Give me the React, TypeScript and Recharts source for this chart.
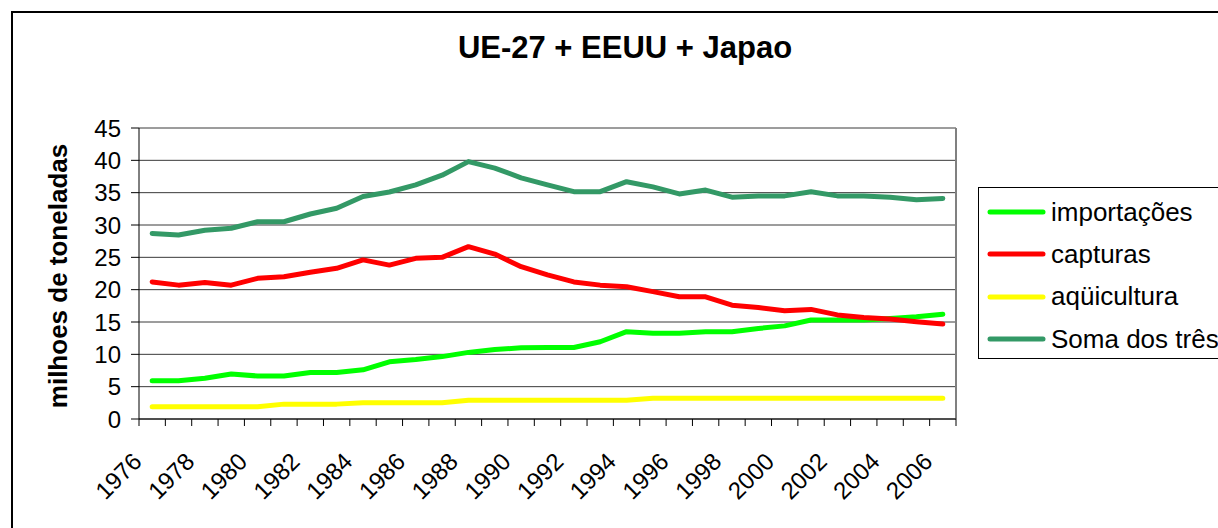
import React from "react";
import {
  LineChart,
  Line,
  XAxis,
  YAxis,
  CartesianGrid,
  ReferenceLine,
} from "recharts";

const years = [
  1976, 1977, 1978, 1979, 1980, 1981, 1982, 1983, 1984, 1985, 1986, 1987, 1988,
  1989, 1990, 1991, 1992, 1993, 1994, 1995, 1996, 1997, 1998, 1999, 2000, 2001,
  2002, 2003, 2004, 2005, 2006,
];
const importacoes = [
  5.9, 5.9, 6.3, 6.95, 6.65, 6.65, 7.2, 7.2, 7.6, 8.85, 9.2, 9.65, 10.3, 10.75,
  11.0, 11.05, 11.05, 11.95, 13.5, 13.25, 13.25, 13.5, 13.5, 14.0, 14.4, 15.3,
  15.3, 15.3, 15.55, 15.8, 16.2,
];
const capturas = [
  21.2, 20.7, 21.1, 20.7, 21.75, 22.0, 22.7, 23.3, 24.6, 23.8, 24.85, 25.0,
  26.65, 25.5, 23.55, 22.3, 21.2, 20.7, 20.45, 19.7, 18.9, 18.9, 17.6, 17.25,
  16.75, 16.95, 16.1, 15.7, 15.45, 15.05, 14.7,
];
const aquicultura = [
  1.9, 1.9, 1.9, 1.9, 1.9, 2.3, 2.3, 2.3, 2.5, 2.5, 2.5, 2.5, 2.9, 2.9, 2.9,
  2.9, 2.9, 2.9, 2.9, 3.2, 3.2, 3.2, 3.2, 3.2, 3.2, 3.2, 3.2, 3.2, 3.2, 3.2,
  3.2,
];
const soma = [
  28.7, 28.45, 29.2, 29.5, 30.5, 30.5, 31.7, 32.6, 34.4, 35.1, 36.2, 37.7, 39.8,
  38.8, 37.3, 36.2, 35.15, 35.15, 36.7, 35.9, 34.8, 35.4, 34.3, 34.5, 34.5,
  35.15, 34.5, 34.5, 34.3, 33.9, 34.1,
];

const labelYears = [
  1976, 1978, 1980, 1982, 1984, 1986, 1988, 1990, 1992, 1994, 1996, 1998, 2000,
  2002, 2004, 2006,
];
const boundaryTicks = [...years.map((y) => y - 0.5), years[years.length - 1] + 0.5];
const xTicks = [...boundaryTicks, ...labelYears].sort((a, b) => a - b);
const yTicks = [0, 5, 10, 15, 20, 25, 30, 35, 40, 45];

const title = "UE-27 + EEUU + Japao";
const yTitle = "milhoes de toneladas";

const series = [
  { key: "importacoes", name: "importações", color: "#00FF00", values: importacoes },
  { key: "capturas", name: "capturas", color: "#FF0000", values: capturas },
  { key: "aquicultura", name: "aqüicultura", color: "#FFFF00", values: aquicultura },
  { key: "soma", name: "Soma dos três", color: "#339966", values: soma },
];

const data = years.map((year, i) => {
  const row: Record<string, number> = { year };
  series.forEach((s) => {
    row[s.key] = s.values[i];
  });
  return row;
});

const FONT = "'Liberation Sans', Arial, sans-serif";

const XTick = (props: any) => {
  const { x, y, payload } = props;
  if (!Number.isInteger(payload.value)) {
    return <line x1={x} y1={y} x2={x} y2={y + 7} stroke="#000" strokeWidth={1} />;
  }
  const ax = x - 9;
  const ay = y + 44;
  return (
    <text
      x={ax}
      y={ay}
      textAnchor="end"
      fontSize={24}
      fontFamily={FONT}
      fill="#000"
      transform={`rotate(-45 ${ax} ${ay})`}
    >
      {payload.value}
    </text>
  );
};

const YTitle = () => {
  const cx = 58;
  const cy = 276;
  return (
    <text
      x={cx}
      y={cy}
      textAnchor="middle"
      dominantBaseline="central"
      fontSize={26}
      fontWeight="bold"
      fontFamily={FONT}
      fill="#000"
      transform={`rotate(-90 ${cx} ${cy})`}
    >
      {yTitle}
    </text>
  );
};

const LegendBox = () => (
  <div
    style={{
      position: "absolute",
      left: 978,
      top: 187,
      width: 260,
      height: 172,
      border: "1px solid #000",
      background: "#fff",
      boxSizing: "border-box",
      paddingTop: 3,
    }}
  >
    {series.map((s) => (
      <div
        key={s.key}
        style={{ display: "flex", alignItems: "center", height: 42.3 }}
      >
        <svg width={72} height={10} style={{ flex: "none" }}>
          <line
            x1={11}
            y1={5}
            x2={64}
            y2={5}
            stroke={s.color}
            strokeWidth={5}
            strokeLinecap="round"
          />
        </svg>
        <span
          style={{
            fontFamily: FONT,
            fontSize: 26,
            color: "#000",
            whiteSpace: "nowrap",
          }}
        >
          {s.name}
        </span>
      </div>
    ))}
  </div>
);

export default function App() {
  return (
    <div
      style={{
        position: "absolute",
        left: 0,
        top: 0,
        width: 1218,
        height: 528,
        overflow: "hidden",
        background: "#fff",
      }}
    >
      <div
        style={{
          position: "absolute",
          left: 11,
          top: 11,
          width: 1260,
          height: 600,
          border: "2px solid #000",
        }}
      />
      <div
        style={{
          position: "absolute",
          left: 0,
          top: 30,
          width: 1250,
          textAlign: "center",
          fontFamily: FONT,
          fontWeight: "bold",
          fontSize: 31,
          color: "#000",
        }}
      >
        {title}
      </div>
      <div style={{ position: "absolute", left: 0, top: 0 }}>
        <LineChart
          width={1218}
          height={528}
          data={data}
          margin={{ top: 128, right: 262, bottom: 108, left: 79 }}
        >
          <CartesianGrid vertical={false} stroke="#3a3a3a" strokeWidth={1} />
          <XAxis
            dataKey="year"
            type="number"
            domain={[1975.5, 2006.5]}
            allowDataOverflow
            ticks={xTicks}
            interval={0}
            tick={<XTick />}
            tickLine={false}
            tickSize={0}
            tickMargin={0}
            axisLine={{ stroke: "#000" }}
            height={1}
          />
          <YAxis
            domain={[0, 45]}
            ticks={yTicks}
            interval={0}
            width={60}
            tickSize={8}
            tickMargin={10}
            axisLine={{ stroke: "#000" }}
            tickLine={{ stroke: "#000" }}
            tick={{ fontSize: 24, fontFamily: FONT, fill: "#000" }}
            label={<YTitle />}
          />
          <ReferenceLine x={2006.5} stroke="#808080" strokeWidth={2} />
          {series.map((s) => (
            <Line
              key={s.key}
              dataKey={s.key}
              name={s.name}
              stroke={s.color}
              strokeWidth={5}
              strokeLinecap="round"
              strokeLinejoin="round"
              dot={false}
              activeDot={false}
              isAnimationActive={false}
            />
          ))}
        </LineChart>
      </div>
      <LegendBox />
    </div>
  );
}
